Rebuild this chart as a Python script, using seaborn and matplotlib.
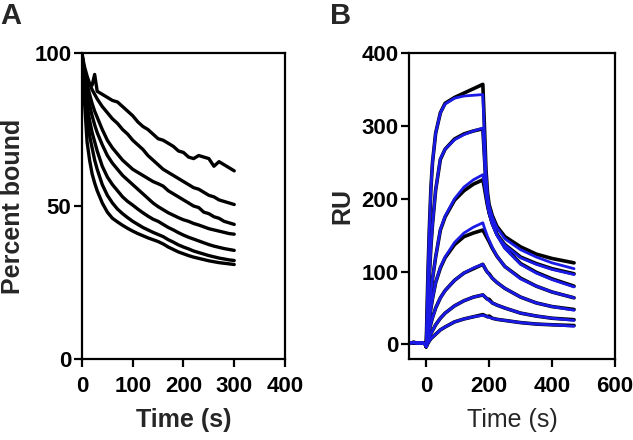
import matplotlib
matplotlib.use("Agg")
import matplotlib.pyplot as plt
import seaborn as sns
import pandas as pd

# ---------------- Panel A data (percent bound vs time) ----------------
time_a = [0, 2, 5, 10, 15, 20, 25, 30, 40, 50, 60, 70, 80, 90, 100, 110, 120, 130,
          140, 150, 160, 170, 180, 190, 200, 210, 220, 230, 240, 250, 260, 270, 280, 290, 300]
a1 = [100, 97, 94, 91, 90, 89.5, 93, 87.5, 86.5, 85.5, 84.5, 84, 82.5, 81, 79.5, 77.5, 76, 75,
      73.5, 72, 71.5, 70.5, 69.5, 68, 67.5, 66, 65.5, 66.5, 66, 65.5, 63, 64.5, 63.5, 62.5, 61.5]
a2 = [100, 98, 95.5, 92.5, 90, 88, 86.5, 85, 82.5, 80.5, 78.5, 77, 75, 73.5, 71.5, 70, 68.5, 66.5,
      65, 63.5, 62, 61, 60, 59, 58, 57, 56, 55.5, 54.5, 53.5, 53, 52, 51.5, 51, 50.5]
a3 = [100, 97, 94, 90, 86.5, 83.5, 81, 79, 75, 71.5, 69, 67, 65, 63.5, 62, 61, 60, 59,
      58, 57.3, 56.5, 55, 54, 53, 52, 51, 50, 49.5, 48, 47.5, 46.5, 46, 45, 44.5, 44]
a4 = [100, 96, 92, 87, 83, 79.5, 76.5, 74, 70, 66.5, 64, 62, 60, 58.5, 57, 55.5, 54, 52.5,
      51, 49.8, 48.8, 47.8, 47, 46.2, 45.5, 45, 44.3, 43.8, 43.2, 42.6, 42.2, 41.8, 41.4, 41, 40.8]
a5 = [100, 95, 90, 83, 78, 74, 71, 68, 63, 59.5, 57, 55, 53, 51.5, 50.3, 49, 47.8, 46.7,
      45.7, 45, 44, 43, 42.2, 41.3, 40.5, 39.8, 39.2, 38.6, 38, 37.4, 36.9, 36.5, 36.1, 35.8, 35.5]
a6 = [100, 94, 88, 79, 73, 69, 65, 62, 57, 53.5, 51, 49, 47.5, 46.2, 45, 44, 43, 42.2,
      41.4, 40.7, 40, 39, 38.2, 37.3, 36.6, 36, 35.3, 34.8, 34.3, 33.8, 33.4, 33, 32.7, 32.4, 32.2]
a7 = [100, 92, 84, 71, 65, 60.5, 57.5, 55, 51, 48, 46, 44.8, 43.7, 42.7, 41.8, 41, 40.3, 39.6,
      39, 38.4, 37.6, 36.6, 35.8, 35, 34.4, 33.8, 33.3, 32.9, 32.5, 32.1, 31.8, 31.5, 31.3, 31.1, 30.9]

# ---------------- Panel B data (RU vs time) ----------------
time_b = [-55, -40, -25, -10, -3, 0, 3, 6, 10, 15, 20, 30, 45, 60, 90, 120, 150, 180,
          185, 190, 195, 200, 210, 225, 250, 300, 350, 400, 470]
base = [2, 2.5, 2, 2, 1, -3]
fit1 = base + [55, 105, 160, 215, 250, 290, 318, 330, 338, 341, 342, 343,
               290, 235, 205, 190, 175, 160, 145, 130, 120, 112, 104]
fit2 = base + [30, 60, 95, 135, 165, 212, 255, 268, 281, 288, 293, 297,
               255, 215, 192, 180, 165, 150, 136, 119, 110, 103, 96]
fit3 = base + [15, 30, 50, 72, 90, 120, 158, 176, 200, 216, 226, 233,
               220, 205, 192, 182, 167, 150, 132, 110, 98, 89, 79]
fit4 = base + [10, 22, 35, 50, 63, 85, 106, 120, 140, 153, 161, 167,
               160, 154, 148, 143, 133, 121, 107, 90, 80, 72, 64]
fit5 = base + [5, 12, 20, 29, 37, 50, 64, 74, 88, 98, 105, 110,
               106, 102, 99, 96, 91, 85, 77, 65, 57, 52, 47]
fit6 = base + [2, 6, 10, 15, 19, 27, 36, 43, 53, 60, 65, 68,
               66, 64, 62, 60, 57, 54, 50, 43, 39, 36, 33]
fit7 = base + [0, 2, 5, 8, 10, 14, 20, 24, 31, 35, 38, 40,
               39.5, 39, 38, 37, 36, 34.5, 33, 30, 28, 27, 25]

data1 = base + [55, 105, 160, 215, 250, 290, 318, 331, 339, 345, 351, 357,
                300, 240, 208, 192, 177, 162, 148, 134, 124, 118, 112]
data2 = base + [30, 60, 95, 135, 165, 212, 254, 268, 282, 289, 293, 296,
                258, 217, 194, 181, 166, 151, 137, 120, 111, 104, 97]
data3 = base + [15, 30, 50, 72, 90, 120, 157, 175, 198, 211, 220, 226,
                215, 202, 190, 181, 167, 151, 133, 111, 99, 90, 80]
data4 = base + [10, 22, 35, 50, 63, 85, 105, 119, 137, 148, 153, 157,
                153, 149, 145, 141, 132, 121, 107, 91, 80, 72, 64]
data5 = base + [5, 12, 20, 29, 37, 50, 64, 74, 88, 98, 104, 110,
                106, 102, 99, 97, 91, 85, 77, 65, 57, 52, 48]
data6 = base + [2, 6, 10, 15, 19, 27, 36, 43, 53, 60, 65, 68,
                66, 64, 62, 62, 57, 54, 50, 43, 39, 36, 34]
data7 = base + [0, 2, 5, 8, 10, 14, 20, 24, 31, 35, 38, 41,
                40, 39, 38, 39, 36, 34.5, 33, 30, 28, 27, 26]

# ---------------- Build tables ----------------
curves_a = [a1, a2, a3, a4, a5, a6, a7]
df_a = pd.concat([pd.DataFrame({"t": time_a, "v": c, "curve": i}) for i, c in enumerate(curves_a)])
df_bd = pd.concat([pd.DataFrame({"t": time_b, "v": c, "curve": i})
                   for i, c in enumerate([data1, data2, data3, data4, data5, data6, data7])])
df_bf = pd.concat([pd.DataFrame({"t": time_b, "v": c, "curve": i})
                   for i, c in enumerate([fit1, fit2, fit3, fit4, fit5, fit6, fit7])])

sns.set_style("ticks")
plt.rcParams["font.family"] = ["Liberation Sans", "DejaVu Sans"]

fig = plt.figure(figsize=(6.33, 4.4), dpi=100)
axA = fig.add_axes([0.1295, 0.184, 0.3207, 0.6955])
axB = fig.add_axes([0.646, 0.184, 0.3255, 0.6955])

sns.lineplot(data=df_a, x="t", y="v", units="curve", estimator=None, sort=False,
             color="black", lw=2.4, ax=axA, legend=False)
sns.lineplot(data=df_bd, x="t", y="v", units="curve", estimator=None, sort=False,
             color="black", lw=2.6, ax=axB, legend=False)
sns.lineplot(data=df_bf, x="t", y="v", units="curve", estimator=None, sort=False,
             color="#1a1aE6", lw=2.0, ax=axB, legend=False)

axA.set_xlim(0, 400)
axA.set_ylim(0, 100)
axA.set_xticks([0, 100, 200, 300, 400])
axA.set_yticks([0, 50, 100])
axA.set_xlabel("Time (s)", fontsize=18, fontweight="bold", labelpad=8)
axA.set_ylabel("Percent bound", fontsize=18, fontweight="bold", labelpad=7)

axB.set_xlim(-55, 600)
axB.set_ylim(-20, 400)
axB.set_xticks([0, 200, 400, 600])
axB.set_yticks([0, 100, 200, 300, 400])
axB.set_xlabel("Time (s)", fontsize=18, fontweight="normal", labelpad=8)
axB.set_ylabel("RU", fontsize=18, fontweight="bold", labelpad=5)

for ax in (axA, axB):
    for s in ax.spines.values():
        s.set_visible(True)
        s.set_linewidth(1.6)
        s.set_color("black")
    ax.tick_params(direction="out", length=6, width=1.6, labelsize=16, colors="black")
    ax.tick_params(axis="x", pad=6)
    ax.tick_params(axis="y", pad=1.5)
    for lab in ax.get_xticklabels() + ax.get_yticklabels():
        lab.set_fontweight("bold")

fig.text(0.0, 0.995, "A", fontsize=21, fontweight="bold", va="top", ha="left")
fig.text(0.522, 0.995, "B", fontsize=21, fontweight="bold", va="top", ha="left")

fig.savefig("out.png", dpi=100)
